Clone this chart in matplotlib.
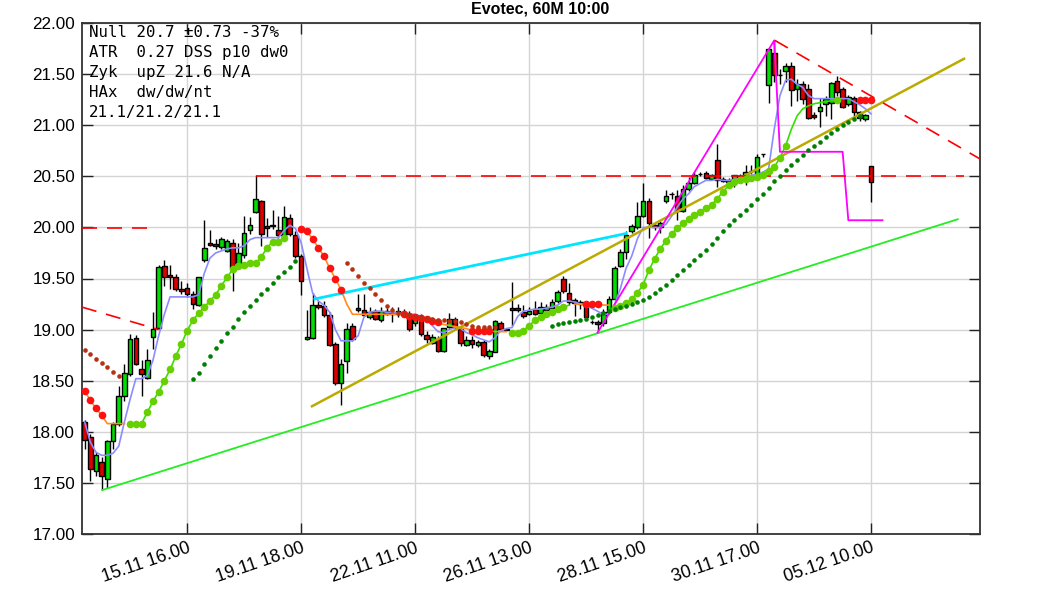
import matplotlib.pyplot as plt

# hourly bars, index 0 = first visible bar
opens = [18.10, 17.95, 17.62, 17.70, 17.54, 17.91, 18.08, 18.35, 18.57, 18.92,
         18.61, 18.53, 18.93, 19.02, 19.62, 19.53, 19.51, 19.40, 19.41, 19.35,
         19.24, 19.68, 19.85, 19.84, 19.81, 19.77, 19.85, 19.63, 19.73, 19.97,
         20.15, 20.26, 20.01, 20.01, 19.97, 19.92, 20.09, 19.93, 19.72, 18.91,
         18.92, 19.24, 19.23, 19.14, 18.86, 18.48, 18.69, 19.04, 19.21, 19.19,
         19.12, 19.18, 19.09, 19.18, 19.15, 19.18, 19.17, 19.15, 19.06, 19.11,
         18.95, 18.87, 18.91, 18.79, 19.03, 19.10, 19.01, 18.85, 18.90, 18.85,
         18.88, 18.74, 18.78, 19.06, 19.01, 19.21, 19.21, 19.17, 19.15, 19.20,
         19.16, 19.19, 19.21, 19.28, 19.50, 19.36, 19.29, 19.27, 19.26, 19.07,
         19.07, 19.06, 19.17, 19.30, 19.62, 19.76, 19.96, 20.00, 20.11, 20.26,
         20.02, 20.00, 20.26, 20.33, 20.31, 20.16, 20.38, 20.43, 20.52, 20.53,
         20.47, 20.66, 20.47, 20.46, 20.46, 20.47, 20.46, 20.55, 20.51, 20.72,
         21.39, 21.71, 21.49, 21.53, 21.58, 21.35, 21.40, 21.35, 21.10, 21.14,
         21.21, 21.22, 21.43, 21.35, 21.21, 21.27, 21.13, 21.06, 20.60]
highs = [18.12, 17.98, 17.80, 17.75, 17.92, 18.10, 18.45, 18.66, 18.96, 18.95,
         18.70, 18.81, 19.17, 19.63, 19.68, 19.63, 19.54, 19.48, 19.46, 19.38,
         19.51, 20.07, 19.97, 19.89, 19.91, 19.89, 19.89, 19.85, 20.11, 20.10,
         20.51, 20.27, 20.09, 20.17, 20.11, 20.21, 20.13, 19.96, 19.74, 19.19,
         19.36, 19.28, 19.28, 19.17, 18.88, 18.71, 19.06, 19.06, 19.35, 19.35,
         19.22, 19.20, 19.22, 19.21, 19.22, 19.22, 19.20, 19.18, 19.15, 19.15,
         18.99, 18.96, 18.94, 19.02, 19.16, 19.12, 19.04, 18.94, 18.94, 18.90,
         18.90, 18.81, 19.09, 19.08, 19.02, 19.47, 19.25, 19.24, 19.22, 19.28,
         19.27, 19.25, 19.30, 19.39, 19.52, 19.46, 19.31, 19.29, 19.28, 19.09,
         19.09, 19.20, 19.33, 19.62, 19.79, 19.96, 20.03, 20.25, 20.43, 20.29,
         20.03, 20.06, 20.37, 20.35, 20.37, 20.41, 20.49, 20.54, 20.54, 20.55,
         20.52, 20.82, 20.49, 20.48, 20.51, 20.52, 20.61, 20.61, 20.72, 20.72,
         21.76, 21.83, 21.55, 21.61, 21.62, 21.45, 21.43, 21.40, 21.13, 21.27,
         21.29, 21.42, 21.48, 21.37, 21.30, 21.29, 21.14, 21.11, 20.60]
lows = [17.83, 17.52, 17.57, 17.43, 17.45, 17.83, 18.06, 18.30, 18.55, 18.65,
        18.35, 18.52, 18.81, 19.01, 19.43, 19.40, 19.38, 19.35, 19.32, 19.20,
        19.23, 19.66, 19.82, 19.79, 19.79, 19.76, 19.38, 19.61, 19.70, 19.94,
        20.14, 19.82, 19.91, 19.98, 19.90, 19.91, 19.92, 19.70, 19.34, 18.90,
        18.91, 19.20, 19.12, 18.84, 18.46, 18.26, 18.58, 18.89, 19.17, 19.13,
        19.10, 19.09, 19.07, 19.14, 19.07, 19.12, 19.12, 18.99, 19.04, 18.94,
        18.87, 18.86, 18.78, 18.78, 19.02, 19.01, 18.84, 18.84, 18.82, 18.83,
        18.73, 18.71, 18.78, 19.00, 19.00, 19.04, 19.17, 19.11, 19.14, 19.14,
        19.15, 19.17, 19.20, 19.26, 19.36, 19.24, 19.13, 19.20, 19.10, 19.05,
        18.97, 19.04, 19.15, 19.30, 19.61, 19.69, 19.95, 19.98, 20.10, 19.90,
        19.97, 19.95, 20.24, 20.28, 20.07, 20.15, 20.36, 20.42, 20.50, 20.47,
        20.46, 20.40, 20.44, 20.43, 20.40, 20.46, 20.41, 20.52, 20.49, 20.69,
        21.22, 21.42, 21.40, 21.42, 21.19, 21.24, 21.21, 21.06, 21.06, 20.98,
        21.09, 21.06, 21.29, 21.17, 21.19, 21.09, 21.04, 21.04, 20.25]
closes = [17.92, 17.64, 17.77, 17.57, 17.91, 18.08, 18.35, 18.58, 18.91, 18.66,
          18.57, 18.70, 19.01, 19.61, 19.51, 19.51, 19.40, 19.38, 19.35, 19.25,
          19.51, 19.80, 19.83, 19.82, 19.89, 19.87, 19.60, 19.75, 19.95, 20.02,
          20.28, 19.94, 19.99, 20.02, 19.93, 20.10, 19.94, 19.72, 19.48, 18.93,
          19.24, 19.22, 19.14, 18.85, 18.48, 18.66, 19.01, 18.91, 19.19, 19.14,
          19.17, 19.10, 19.18, 19.15, 19.17, 19.15, 19.14, 19.01, 19.11, 18.96,
          18.91, 18.93, 18.79, 19.02, 19.10, 19.03, 18.87, 18.90, 18.86, 18.88,
          18.75, 18.79, 19.08, 19.01, 19.00, 19.19, 19.19, 19.13, 19.18, 19.15,
          19.22, 19.22, 19.27, 19.37, 19.38, 19.27, 19.26, 19.25, 19.12, 19.07,
          19.05, 19.17, 19.30, 19.60, 19.76, 19.93, 20.01, 20.11, 20.26, 20.04,
          20.00, 20.04, 20.31, 20.33, 20.16, 20.38, 20.43, 20.51, 20.52, 20.48,
          20.51, 20.46, 20.45, 20.44, 20.51, 20.50, 20.54, 20.55, 20.69, 20.72,
          21.75, 21.49, 21.49, 21.58, 21.34, 21.40, 21.26, 21.07, 21.08, 21.18,
          21.26, 21.41, 21.32, 21.18, 21.28, 21.13, 21.07, 21.10, 20.44]

# moving average (blue)
ma = [18.10, 17.90, 17.80, 17.77, 17.77, 17.79, 17.86, 18.10, 18.32, 18.52,
      18.52, 18.55, 18.70, 18.94, 19.15, 19.32, 19.32, 19.32, 19.32, 19.32,
      19.34, 19.55, 19.70, 19.75, 19.77, 19.79, 19.80, 19.80, 19.82, 19.88,
      19.90, 19.90, 19.90, 19.90, 19.90, 19.97, 20.02, 19.99, 19.85, 19.60,
      19.36, 19.28, 19.24, 19.17, 19.00, 18.89, 18.89, 18.89, 18.94, 19.12,
      19.17, 19.18, 19.18, 19.17, 19.17, 19.16, 19.16, 19.15, 19.15, 19.13,
      19.10, 19.04, 18.98, 18.97, 19.00, 19.02, 19.01, 18.97, 18.95, 18.92,
      18.90, 18.88, 18.92, 18.99, 19.01, 19.02, 19.13, 19.18, 19.19, 19.20,
      19.20, 19.21, 19.22, 19.24, 19.28, 19.28, 19.27, 19.25, 19.23, 19.21,
      19.18, 19.15, 19.15, 19.25, 19.40, 19.60, 19.72, 19.89, 20.00, 20.00,
      20.00, 20.00, 20.03, 20.11, 20.20, 20.28, 20.33, 20.40, 20.43, 20.46,
      20.46, 20.47, 20.46, 20.46, 20.47, 20.48, 20.50, 20.51, 20.52, 20.54,
      20.57, 20.96, 21.29, 21.44, 21.45, 21.40, 21.37, 21.29, 21.26, 21.26,
      21.26, 21.26, 21.26, 21.26, 21.26, 21.23, 21.20, 21.16, 21.11]

# trailing stop: (first bar, values), red above price, green below
stop_down = [(0, [18.40, 18.31, 18.23, 18.16, 18.08, 18.08, 18.08, 18.08]),
             (38, [19.98, 19.96, 19.89, 19.80, 19.72, 19.60, 19.50, 19.39, 19.25, 19.15,
                   19.15, 19.15, 19.15, 19.15, 19.15, 19.15, 19.15, 19.15, 19.15, 19.13,
                   19.12, 19.11, 19.10, 19.08, 19.07, 19.05, 19.04, 19.03, 19.02, 19.01,
                   18.99, 18.99, 18.99, 18.99, 18.98, 18.98, 18.98]),
             (86, [19.25, 19.25, 19.25, 19.25, 19.25, 19.24, 19.24]),
             (136, [21.25, 21.25, 21.25])]
stop_up = [(8, [18.08, 18.08, 18.08, 18.19, 18.30, 18.39, 18.50, 18.61, 18.74, 18.86,
                18.99, 19.09, 19.16, 19.22, 19.28, 19.34, 19.43, 19.51, 19.59, 19.62,
                19.63, 19.65, 19.65, 19.71, 19.80, 19.86, 19.86, 19.90]),
           (75, [18.97, 18.97, 18.99, 19.04, 19.09, 19.12, 19.15, 19.17, 19.20, 19.22,
                 19.24]),
           (93, [19.21, 19.23, 19.26, 19.30, 19.36, 19.44, 19.58, 19.69, 19.79, 19.87,
                 19.94, 19.99, 20.04, 20.08, 20.12, 20.15, 20.19, 20.22, 20.28, 20.35,
                 20.41, 20.44, 20.46, 20.47, 20.48, 20.49, 20.51, 20.55, 20.59, 20.68,
                 20.80, 20.96, 21.09, 21.16, 21.19, 21.21, 21.22, 21.23, 21.24, 21.25])]
red_dot_bars = list(range(0, 4)) + list(range(38, 46)) + list(range(56, 63)) + \
    list(range(68, 72)) + list(range(88, 91)) + list(range(136, 139))
green_dot_bars = list(range(8, 36)) + list(range(75, 85)) + list(range(93, 124)) + [132]

# slower stop, small dots
slow_down = [(0, [18.80, 18.76, 18.71, 18.67, 18.63, 18.59, 18.55]),
             (46, [19.65, 19.59, 19.52, 19.46, 19.41, 19.35, 19.29, 19.23, 19.19, 19.16,
                   19.15, 19.14, 19.13, 19.12, 19.11, 19.10, 19.09, 19.09, 19.08, 19.08,
                   19.07, 19.05, 19.04, 19.03, 19.03, 19.03, 19.03])]
slow_up = [(19, [18.52, 18.58, 18.66, 18.74, 18.82, 18.89, 18.97, 19.03, 19.10, 19.17,
                 19.23, 19.29, 19.35, 19.40, 19.46, 19.51, 19.56, 19.61, 19.67]),
           (82, [19.04, 19.05, 19.06, 19.07, 19.08, 19.09, 19.10, 19.12, 19.14, 19.16,
                 19.18, 19.20, 19.22, 19.23, 19.25, 19.27, 19.29, 19.32, 19.36, 19.40,
                 19.44, 19.49, 19.53, 19.58, 19.63, 19.68, 19.73, 19.78, 19.84, 19.90,
                 19.96, 20.02, 20.07, 20.12, 20.17, 20.22, 20.28, 20.33, 20.39, 20.45,
                 20.50, 20.56, 20.61, 20.66, 20.71, 20.76, 20.80, 20.84, 20.88, 20.92,
                 20.96, 21.00, 21.03, 21.06, 21.09])]

# drawn lines: (bar positions, prices)
support_line = ([3.1, 153.2], [17.43, 20.08])
channel_line = ([39.9, 154.3], [18.25, 21.65])
cyan_line = ([40.4, 95.0], [19.30, 19.94])
zigzag = ([90, 121, 122, 133, 134, 140], [18.97, 21.83, 20.74, 20.74, 20.07, 20.07])
red_dashed = [([30, 154.3], [20.50, 20.50]),
              ([-0.45, 11.3], [19.99, 19.99]),
              ([-0.45, 13.0], [19.22, 19.00]),
              ([121.1, 157.1], [21.83, 20.67])]

tick_pos = [18, 38, 58, 78, 98, 118, 138]
tick_labels = ["15.11 16.00", "19.11 18.00", "22.11 11.00", "26.11 13.00",
               "28.11 15.00", "30.11 17.00", "05.12 10.00"]
y_ticks = [17.0, 17.5, 18.0, 18.5, 19.0, 19.5, 20.0, 20.5, 21.0, 21.5, 22.0]
info_lines = ["Null 20.7 \u00b10.73 -37%", "ATR  0.27 DSS p10 dw0",
              "Zyk  upZ 21.6 N/A", "HAx  dw/dw/nt", "21.1/21.2/21.1"]

plt.rcParams['font.family'] = ['Liberation Sans', 'DejaVu Sans']

fig = plt.figure(figsize=(10.63, 5.91), dpi=100)
ax = fig.add_axes([82 / 1063, 1 - 534 / 591, 898 / 1063, 511 / 591])

n = len(opens)
xs = list(range(n))

# candles
ax.vlines(xs, lows, highs, color='black', lw=1, zorder=3)
body_bottom = [min(o, c) for o, c in zip(opens, closes)]
body_height = [abs(c - o) for o, c in zip(opens, closes)]
body_color = ['#00dd00' if c > o else '#dd0000' for o, c in zip(opens, closes)]
ax.bar(xs, body_height, bottom=body_bottom, width=0.8, color=body_color,
       edgecolor='black', linewidth=1, zorder=4)

ax.plot(xs, ma, color='#8c8cff', lw=1.2, zorder=5)

for start, vals in stop_down:
    ax.plot(range(start, start + len(vals)), vals, color='#ff8c1a', lw=1.2, zorder=5)
for start, vals in stop_up:
    ax.plot(range(start, start + len(vals)), vals, color='#33e000', lw=1.2, zorder=5)


def stop_value(segments, i):
    for start, vals in segments:
        if start <= i < start + len(vals):
            return vals[i - start]
    return None


ry = [stop_value(stop_down, i) for i in red_dot_bars]
ax.plot(red_dot_bars, ry, 'o', color='#ff1010', ms=5.5, mec='none', zorder=6)
gy = [stop_value(stop_up, i) for i in green_dot_bars]
ax.plot(green_dot_bars, gy, 'o', color='#66d000', ms=5.5, mec='none', zorder=6)

for start, vals in slow_down:
    ax.plot(range(start, start + len(vals)), vals, 'o', color='#b83010', ms=3.3,
            mec='none', zorder=6)
for start, vals in slow_up:
    ax.plot(range(start, start + len(vals)), vals, 'o', color='#008000', ms=3.3,
            mec='none', zorder=6)

ax.plot(*support_line, color='#22ee22', lw=1.3, zorder=5)
ax.plot(*channel_line, color='#bbaa00', lw=1.8, zorder=5)
ax.plot(*cyan_line, color='#00e5ff', lw=2, zorder=5)
ax.plot(*zigzag, color='#ff00ff', lw=1.3, zorder=5)
for lx, ly in red_dashed:
    ax.plot(lx, ly, color='#ff0000', lw=1.2, linestyle=(0, (9, 6)), zorder=5)

ax.text(0.008, 0.997, "\n".join(info_lines), transform=ax.transAxes,
        family='DejaVu Sans Mono', fontsize=11.3, va='top', ha='left',
        linespacing=1.42, zorder=7)

ax.set_xlim(-0.45, 157.1)
ax.set_ylim(17, 22)
ax.set_yticks(y_ticks)
ax.set_yticklabels([f"{v:.2f}" for v in y_ticks])
ax.set_xticks(tick_pos)
ax.set_xticklabels(tick_labels, rotation=19, ha='right', rotation_mode='anchor')
ax.tick_params(direction='in', length=8, width=1, pad=5,
               top=True, right=True, color='#222222')
ax.tick_params(axis='y', labelsize=12.3)
ax.tick_params(axis='x', labelsize=12.8, pad=4)
ax.grid(True, color='#d4d4d4', lw=1, zorder=0)
ax.set_axisbelow(True)
for sp in ax.spines.values():
    sp.set_color('#333333')
    sp.set_linewidth(1.3)

fig.text(540 / 1063, 1 - 2 / 591, "Evotec, 60M 10:00", ha='center', va='top',
         fontsize=11.5, fontweight='bold')

fig.savefig('out.png', dpi=100)
